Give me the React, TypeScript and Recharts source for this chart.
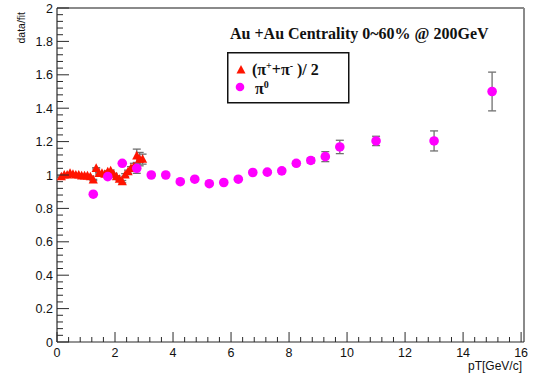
import React from 'react';
import { ScatterChart, Scatter, XAxis, YAxis, ErrorBar, ReferenceLine } from 'recharts';

// (pi+ + pi-)/2 data/fit ratio
const CHARGED_PT = [0.15, 0.25, 0.35, 0.45, 0.55, 0.65, 0.75, 0.85, 0.95, 1.05, 1.15, 1.25, 1.35, 1.45, 1.55, 1.65, 1.75, 1.85, 1.95, 2.05, 2.15, 2.25, 2.35, 2.45, 2.55, 2.65, 2.75, 2.85, 2.95];
const CHARGED_RATIO = [0.99, 1.0, 1.0, 1.01, 1.005, 1.0, 1.0, 0.995, 0.995, 0.995, 0.99, 0.97, 1.04, 1.01, 1.01, 1.005, 1.02, 1.025, 1.005, 0.99, 0.975, 0.96, 1.0, 1.02, 1.04, 1.05, 1.115, 1.095, 1.095];
const CHARGED_ERR = [0.004, 0.004, 0.004, 0.004, 0.004, 0.004, 0.004, 0.004, 0.004, 0.004, 0.004, 0.004, 0.004, 0.004, 0.004, 0.004, 0.005, 0.005, 0.005, 0.006, 0.006, 0.007, 0.008, 0.009, 0.01, 0.02, 0.04, 0.04, 0.03];

// pi0 data/fit ratio
const NEUTRAL_PT = [1.25, 1.75, 2.25, 2.75, 3.25, 3.75, 4.25, 4.75, 5.25, 5.75, 6.25, 6.75, 7.25, 7.75, 8.25, 8.75, 9.25, 9.75, 11, 13, 15];
const NEUTRAL_RATIO = [0.885, 0.99, 1.07, 1.04, 1.0, 1.0, 0.96, 0.975, 0.948, 0.955, 0.975, 1.015, 1.017, 1.025, 1.07, 1.087, 1.11, 1.168, 1.204, 1.204, 1.5];
const NEUTRAL_ERR = [0.005, 0.005, 0.005, 0.03, 0.005, 0.005, 0.005, 0.005, 0.005, 0.006, 0.006, 0.007, 0.008, 0.01, 0.012, 0.015, 0.03, 0.04, 0.028, 0.06, 0.116];

const X_MAJOR = [0, 2, 4, 6, 8, 10, 12, 14, 16];
const Y_MAJOR = [0, 0.2, 0.4, 0.6, 0.8, 1, 1.2, 1.4, 1.6, 1.8, 2];
const SUBDIV = 5;

const RED = '#ff1400';
const MAGENTA = '#ff00ff';
const AXIS = '#2a2a2a';
const SANS = '"Liberation Sans", Arial, sans-serif';
const SERIF = '"Liberation Serif", "Times New Roman", serif';

const withMinor = (major: number[]) => {
  const out: number[] = [];
  for (let i = 0; i < major.length - 1; i++) {
    const step = (major[i + 1] - major[i]) / SUBDIV;
    for (let k = 0; k < SUBDIV; k++) out.push(Number((major[i] + k * step).toFixed(4)));
  }
  out.push(major[major.length - 1]);
  return out;
};

const isMajor = (v: number, major: number[]) => major.some((m) => Math.abs(m - v) < 1e-6);

const chargedData = CHARGED_PT.map((x, i) => ({ x, y: CHARGED_RATIO[i], err: CHARGED_ERR[i] }));
const neutralData = NEUTRAL_PT.map((x, i) => ({ x, y: NEUTRAL_RATIO[i], err: NEUTRAL_ERR[i] }));

// ticks drawn inward, like a ROOT frame
const YTick = ({ x, y, payload }: any) => {
  const major = isMajor(payload.value, Y_MAJOR);
  return (
    <g>
      <line x1={x} y1={y} x2={x + (major ? 12 : 6)} y2={y} stroke={AXIS} strokeWidth={1} />
      {major && (
        <text x={x - 4} y={y + 4.5} textAnchor="end" fontFamily={SANS} fontSize={12.5} fill="#111">
          {String(payload.value)}
        </text>
      )}
    </g>
  );
};

const XTick = ({ x, y, payload }: any) => {
  const major = isMajor(payload.value, X_MAJOR);
  return (
    <g>
      <line x1={x} y1={y} x2={x} y2={y - (major ? 10 : 5)} stroke={AXIS} strokeWidth={1} />
      {major && (
        <text x={x} y={y + 14.5} textAnchor="middle" fontFamily={SANS} fontSize={12.5} fill="#111">
          {String(payload.value)}
        </text>
      )}
    </g>
  );
};

const Triangle = ({ cx, cy }: any) => (
  <polygon points={`${cx},${cy - 5} ${cx - 4.6},${cy + 3.6} ${cx + 4.6},${cy + 3.6}`} fill={RED} />
);

const Dot = ({ cx, cy }: any) => <circle cx={cx} cy={cy} r={4.8} fill={MAGENTA} />;

const App = () => (
  <div style={{ position: 'relative', width: 533, height: 373, background: '#fff' }}>
    <style>{'body { margin: 0; }'}</style>
    <ScatterChart width={533} height={373} margin={{ top: 8, right: 9, bottom: 0, left: 0 }}>
      <XAxis
        type="number"
        dataKey="x"
        domain={[0, 16.1]}
        ticks={withMinor(X_MAJOR)}
        interval={0}
        height={31}
        tickSize={0}
        tickMargin={0}
        tick={<XTick />}
        axisLine={{ stroke: AXIS, strokeWidth: 1.2 }}
        allowDataOverflow
      />
      <YAxis
        type="number"
        dataKey="y"
        domain={[0, 2]}
        ticks={withMinor(Y_MAJOR)}
        interval={0}
        width={57}
        tickSize={0}
        tickMargin={0}
        tick={<YTick />}
        axisLine={{ stroke: AXIS, strokeWidth: 1.2 }}
        allowDataOverflow
      />
      <ReferenceLine y={2} stroke="#8a8a8a" strokeWidth={2} />
      <ReferenceLine x={16.1} stroke="#8a8a8a" strokeWidth={2} />
      <Scatter data={chargedData} shape={<Triangle />} isAnimationActive={false}>
        <ErrorBar dataKey="err" direction="y" width={4} stroke="#707070" strokeWidth={1.3} />
      </Scatter>
      <Scatter data={neutralData} shape={<Dot />} isAnimationActive={false}>
        <ErrorBar dataKey="err" direction="y" width={4} stroke="#707070" strokeWidth={1.3} />
      </Scatter>
    </ScatterChart>

    <svg width={533} height={373} style={{ position: 'absolute', left: 0, top: 0, pointerEvents: 'none' }}>
      <text transform="translate(25,12) rotate(-90)" textAnchor="end" fontFamily={SANS} fontSize={10.5} fill="#111">
        data/fit
      </text>
      <text x={522} y={370} textAnchor="end" fontFamily={SANS} fontSize={12} fill="#111">
        pT[GeV/c]
      </text>
      <text x={230} y={38.5} fontFamily={SERIF} fontWeight="bold" fontSize={16} fill="#111">
        Au +Au Centrality 0~60% @ 200GeV
      </text>

      <g transform="translate(227,52)">
        <rect x={0.75} y={0.75} width={121} height={50} fill="#fff" stroke="#111" strokeWidth={1.5} />
        <polygon points="14,13 9.5,21.5 18.5,21.5" fill={RED} />
        <text x={25} y={23} fontFamily={SERIF} fontWeight="bold" fontSize={16} fill="#111">
          (π<tspan dy={-6} fontSize={10}>+</tspan>
          <tspan dy={6}>+π</tspan>
          <tspan dy={-6} fontSize={10}>-</tspan>
          <tspan dy={6}> )/ 2</tspan>
        </text>
        <circle cx={13} cy={35} r={4.3} fill={MAGENTA} />
        <text x={28} y={41.5} fontFamily={SERIF} fontWeight="bold" fontSize={16} fill="#111">
          π<tspan dy={-6} fontSize={10}>0</tspan>
        </text>
      </g>
    </svg>
  </div>
);

export default App;
